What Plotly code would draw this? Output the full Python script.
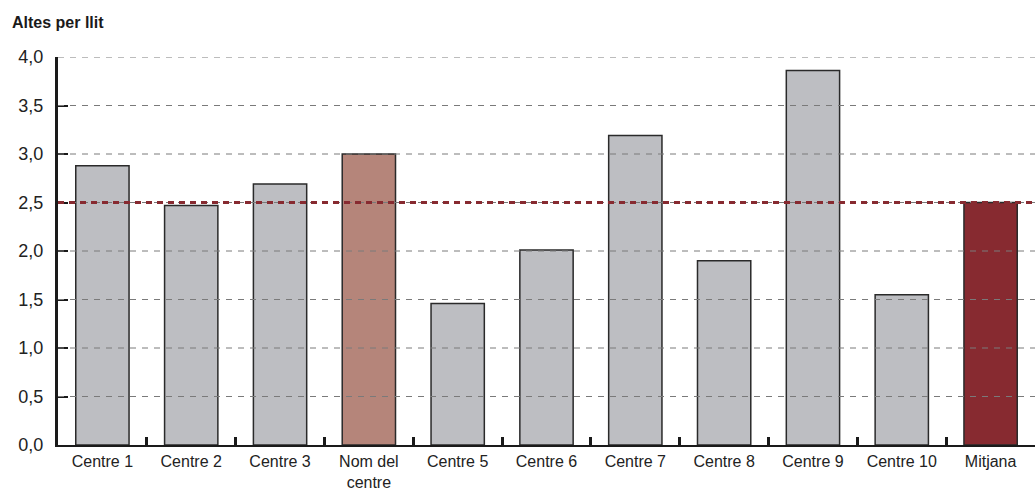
import plotly.graph_objects as go

categories = ["Centre 1", "Centre 2", "Centre 3", "Nom del<br>centre", "Centre 5", "Centre 6",
              "Centre 7", "Centre 8", "Centre 9", "Centre 10", "Mitjana"]
values = [2.88, 2.47, 2.69, 3.0, 1.46, 2.01, 3.19, 1.90, 3.86, 1.55, 2.50]
mean_value = 2.5
y_ticks = [0, 0.5, 1.0, 1.5, 2.0, 2.5, 3.0, 3.5, 4.0]

GRAY = "#BDBEC2"
HIGHLIGHT = "#B5857A"
MEAN = "#872A30"
colors = [GRAY] * len(categories)
colors[3] = HIGHLIGHT
colors[-1] = MEAN

FONT = "Liberation Sans, Arial, sans-serif"

fig = go.Figure()
fig.add_trace(go.Bar(
    x=categories, y=values, width=0.6,
    marker=dict(color=colors, line=dict(color="#2a2a2a", width=1.5)),
    hoverinfo="x+y",
))

# dashed gridlines drawn above the bars (as in the reference)
for v in y_ticks[1:]:
    fig.add_shape(type="line", xref="paper", yref="y", x0=0, x1=1, y0=v, y1=v,
                  line=dict(color="#7a7a7a", width=1, dash="6px,6px"), layer="above")

fig.add_shape(type="line", xref="paper", yref="y", x0=0, x1=1, y0=mean_value, y1=mean_value,
              line=dict(color=MEAN, width=3, dash="6px,5px"), layer="above")

fig.add_annotation(text="<b>Altes per llit</b>", xref="paper", yref="paper", x=-0.0495, y=1.0,
                   yshift=24, xanchor="left", yanchor="bottom", showarrow=False,
                   font=dict(family=FONT, size=16, color="#1a1a1a"))

fig.update_layout(
    width=1035, height=491,
    margin=dict(l=58, r=0, t=57, b=46, autoexpand=False),
    paper_bgcolor="white", plot_bgcolor="white",
    separators=",.",
    showlegend=False,
    bargap=0.4,
    font=dict(family=FONT, size=17, color="#222"),
)
fig.update_xaxes(
    showline=True, linecolor="#1a1a1a", linewidth=2,
    ticks="inside", tickson="boundaries", ticklen=8, tickwidth=3, tickcolor="#1a1a1a",
    showgrid=False, tickfont=dict(size=16), range=[-0.5, 10.5], ticklabelstandoff=1,
    automargin=False,
)
fig.update_yaxes(
    range=[0, 4], tickvals=y_ticks, tickformat=".1f",
    showline=True, linecolor="#1a1a1a", linewidth=3,
    ticks="inside", ticklen=10, tickwidth=2, tickcolor="#1a1a1a",
    showgrid=False, zeroline=False, ticklabelstandoff=8, tickfont=dict(size=18),
    layer="above traces", automargin=False,
)

fig.write_html("out.html")
